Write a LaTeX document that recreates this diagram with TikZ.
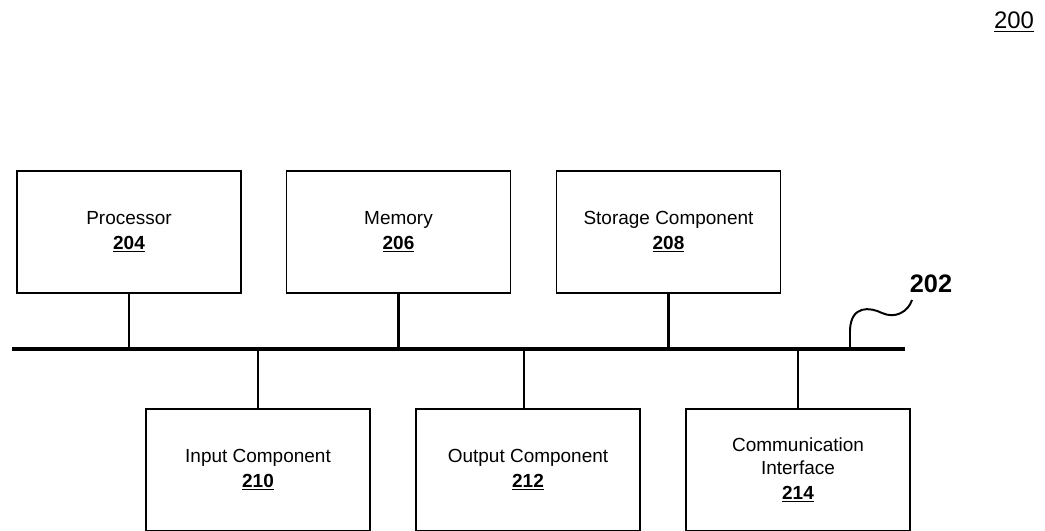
\documentclass[tikz,border=0pt]{standalone}
\usepackage{fontspec}
\setmainfont{Liberation Sans}
\usetikzlibrary{positioning, calc}

\begin{document}
\begin{tikzpicture}[x=0.025cm, y=-0.025cm,
    block/.style={draw, line width=1.2pt, minimum width=5.6cm, minimum height=3.05cm,
                  align=center, font=\fontsize{13.5}{16.5}\selectfont, inner sep=0pt},
    wire/.style={line width=1.8pt}]
    \useasboundingbox (0,0) rectangle (1045,531);

    % ---------------- figure number ----------------
    \node (fig) at (1014,22) {\fontsize{17}{20}\selectfont\underline{200}};

    % ---------------- bus ----------------
    \coordinate (busL) at (12,349);
    \coordinate (busR) at (905,349);
    \draw[line width=2.2pt] (busL) -- (busR);

    % ---------------- top row ----------------
    \node[block] (proc) at (129,232) {Processor\\[1pt]\underline{\textbf{204}}};
    \node[block] (mem)  at (398.5,232) {Memory\\[1pt]\underline{\textbf{206}}};
    \node[block] (stor) at (668.5,232) {Storage Component\\[1pt]\underline{\textbf{208}}};

    % ---------------- bottom row ----------------
    \node[block] (inp) at (258,470) {Input Component\\[1pt]\underline{\textbf{210}}};
    \node[block] (outp) at (528,470) {Output Component\\[1pt]\underline{\textbf{212}}};
    \node[block] (comm) at (798,470) {Communication\\Interface\\[1pt]\underline{\textbf{214}}};

    % Connections to bus
    \foreach \n in {proc, mem, stor}
        \draw[wire] (\n.south) -- (\n.south |- busL);
    \draw[wire] (inp.north) -- (inp.north |- busL);
    \draw[wire] ([xshift=-0.1cm]outp.north) -- ([xshift=-0.1cm]outp.north |- busL);
    \draw[wire] (comm.north) -- (comm.north |- busL);

    % bus label
    \node[font=\fontsize{18}{20}\selectfont\bfseries] (buslbl) at (931,284) {202};
    \coordinate (tap) at (850,349);
    \draw[line width=1.4pt] (tap) -- (850,330) .. controls (851,305) and (870,307) .. (882,313)
        .. controls (895,319) and (908,312) .. (912,300);
\end{tikzpicture}
\end{document}
